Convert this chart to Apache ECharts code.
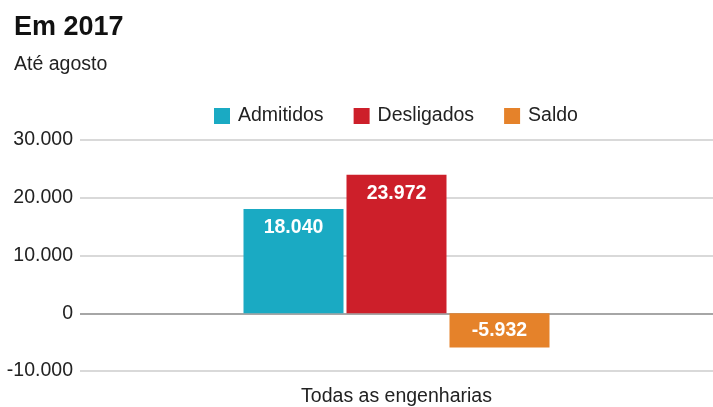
<!DOCTYPE html>
<html><head><meta charset="utf-8">
<script src="https://cdn.jsdelivr.net/npm/echarts@6/dist/echarts.min.js"></script>
<style>html,body{margin:0;padding:0;background:#fff}#c{width:713px;height:407px}</style>
</head><body><div id="c"></div>
<script>
const categories = ['Todas as engenharias'];
const seriesNames = ['Admitidos', 'Desligados', 'Saldo'];
const admitidos = [18040];
const desligados = [23972];
const saldo = [-5932];
const yTicks = [-10000, 30000, 10000]; // min, max, interval
const colors = ['#1aaac3', '#cd1f2a', '#e5822a'];

function fmt(v){ return String(v).replace(/\B(?=(\d{3})+(?!\d))/g, '.'); }
const font = 'Liberation Sans, Arial, sans-serif';
const chart = echarts.init(document.getElementById('c'));
const values = [admitidos, desligados, saldo];
chart.setOption({
  animation: false,
  textStyle: { fontFamily: font },
  title: [
    { text: 'Em 2017', left: 9, top: 9, textStyle: { fontSize: 27, fontWeight: 'bold', color: '#111', fontFamily: font } },
    { text: 'Até agosto', left: 9, top: 50, textStyle: { fontSize: 19.5, fontWeight: 'normal', color: '#222', fontFamily: font } }
  ],
  legend: {
    left: 209, top: 101, itemWidth: 16, itemHeight: 16, itemGap: 30,
    icon: 'rect',
    textStyle: { fontSize: 19.5, color: '#222', fontFamily: font, padding: [0, 0, 0, 3] },
    data: seriesNames
  },
  grid: { left: 80, width: 637, top: 140, bottom: 35 },
  xAxis: {
    type: 'category', data: categories,
    axisLine: { show: false, onZero: false }, axisTick: { show: false },
    axisLabel: { fontSize: 19.5, color: '#222', margin: 16, fontFamily: font }
  },
  yAxis: {
    type: 'value', min: yTicks[0], max: yTicks[1], interval: yTicks[2],
    axisLine: { show: false }, axisTick: { show: false },
    axisLabel: { fontSize: 19.5, color: '#222', margin: 7, formatter: fmt, fontFamily: font },
    splitLine: { lineStyle: { color: ['#ccc', '#888', '#ccc', '#ccc', '#ccc'], width: 1.5 } }
  },
  series: seriesNames.map((n, i) => ({
    name: n, type: 'bar', data: values[i], barWidth: 100, barGap: '3%',
    itemStyle: { color: colors[i] },
    label: {
      show: true, position: i === 2 ? 'inside' : 'insideTop', distance: 9,
      color: '#fff', fontWeight: 'bold', fontSize: 19.5, fontFamily: font,
      formatter: p => fmt(p.value)
    }
  }))
});
</script></body></html>
